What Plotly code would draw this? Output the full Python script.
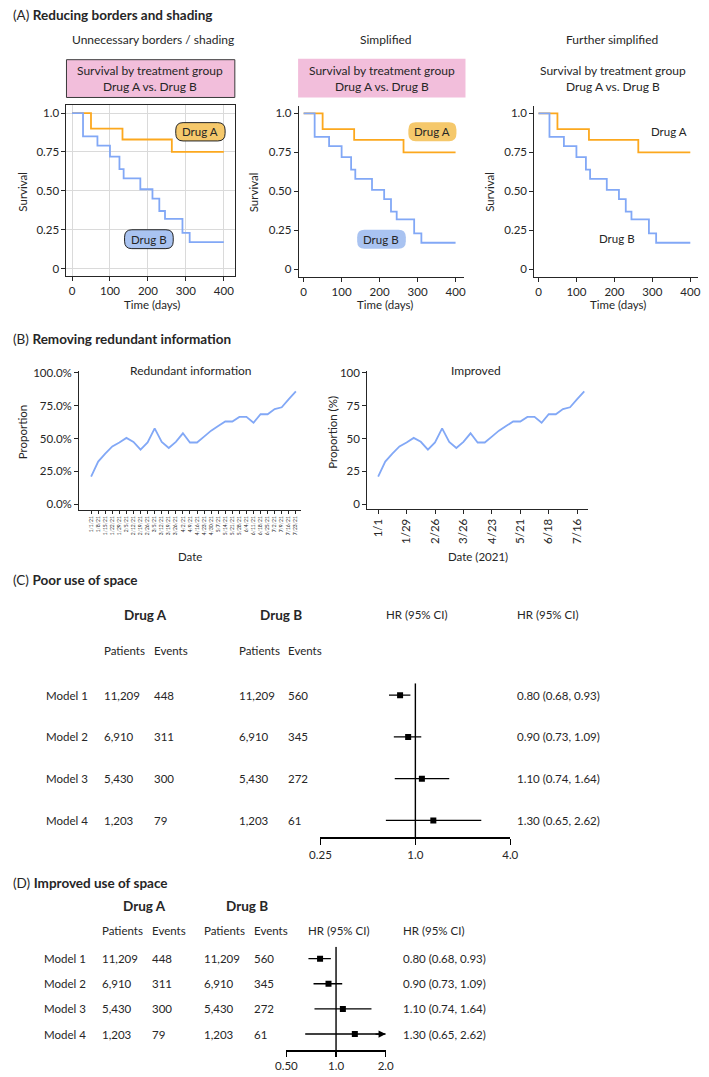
import math
import plotly.graph_objects as go

# ---------------- data ----------------
# Panel A: Kaplan-Meier style survival steps
km_a_time = [0, 50, 133, 263, 400]
km_a_surv = [1.0, 0.90, 0.83, 0.75, 0.75]
km_b_time = [0, 29, 67, 100, 125, 136, 180, 212, 230, 245, 291, 310, 400]
km_b_surv = [1.0, 0.85, 0.79, 0.72, 0.64, 0.58, 0.51, 0.45, 0.37, 0.32, 0.23, 0.17, 0.17]
surv_ticks = [0, 0.25, 0.5, 0.75, 1.0]
surv_ticktext = ["0", "0.25", "0.50", "0.75", "1.0"]
time_ticks = [0, 100, 200, 300, 400]

# Panel B: weekly proportion
week_dates = ["2021-01-01", "2021-01-08", "2021-01-15", "2021-01-22", "2021-01-29",
              "2021-02-05", "2021-02-12", "2021-02-19", "2021-02-26", "2021-03-05",
              "2021-03-12", "2021-03-19", "2021-03-26", "2021-04-02", "2021-04-09",
              "2021-04-16", "2021-04-23", "2021-04-30", "2021-05-07", "2021-05-14",
              "2021-05-21", "2021-05-28", "2021-06-04", "2021-06-11", "2021-06-18",
              "2021-06-25", "2021-07-02", "2021-07-09", "2021-07-16", "2021-07-23"]
week_labels = ["1/1/21", "1/8/21", "1/15/21", "1/22/21", "1/29/21", "2/5/21", "2/12/21",
               "2/19/21", "2/26/21", "3/5/21", "3/12/21", "3/19/21", "3/26/21", "4/2/21",
               "4/9/21", "4/16/21", "4/23/21", "4/30/21", "5/7/21", "5/14/21", "5/21/21",
               "5/28/21", "6/4/21", "6/11/21", "6/18/21", "6/25/21", "7/2/21", "7/9/21",
               "7/16/21", "7/23/21"]
proportion = [21, 32.5, 38.5, 44, 47, 50.5, 47.5, 41.5, 47, 57.8, 47.5, 42.8, 47.5, 54,
              47, 47, 51.5, 56, 59.5, 63, 63, 66.5, 66.5, 62, 68.5, 68.5, 72.5, 73.8, 80, 86]
prop_ticks = [0, 25, 50, 75, 100]
prop_ticktext_pct = ["0.0%", "25.0%", "50.0%", "75.0%", "100.0%"]
prop_ticktext = ["0", "25", "50", "75", "100"]
improved_tickvals = ["2021-01-01", "2021-01-29", "2021-02-26", "2021-03-26",
                     "2021-04-23", "2021-05-21", "2021-06-18", "2021-07-16"]
improved_ticktext = ["1/1", "1/29", "2/26", "3/26", "4/23", "5/21", "6/18", "7/16"]

# Panels C & D: forest plot
models = ["Model 1", "Model 2", "Model 3", "Model 4"]
drug_a_patients = ["11,209", "6,910", "5,430", "1,203"]
drug_a_events = ["448", "311", "300", "79"]
drug_b_patients = ["11,209", "6,910", "5,430", "1,203"]
drug_b_events = ["560", "345", "272", "61"]
hr = [0.80, 0.90, 1.10, 1.30]
ci_low = [0.68, 0.73, 0.74, 0.65]
ci_high = [0.93, 1.09, 1.64, 2.62]
hr_text = ["0.80 (0.68, 0.93)", "0.90 (0.73, 1.09)", "1.10 (0.74, 1.64)", "1.30 (0.65, 2.62)"]
c_ticks = [0.25, 1.0, 4.0]
c_ticktext = ["0.25", "1.0", "4.0"]
d_ticks = [0.5, 1.0, 2.0]
d_ticktext = ["0.50", "1.0", "2.0"]

# ---------------- style ----------------
W, H = 709, 1077
FONT = "Lato, 'Open Sans', 'DejaVu Sans', sans-serif"
INK = "#262626"
ORANGE = "#FCA81E"
BLUE = "#82A8F6"
ORANGE_FILL = "#F5C86B"
BLUE_FILL = "#A9C3F1"
PINK = "#F2BEDB"


def fx(p):
    return p / W


def fy(p):
    return 1 - p / H


fig = go.Figure()

# ---- Panel A traces
for ax in ["", "2", "3"]:
    fig.add_trace(go.Scatter(x=km_a_time, y=km_a_surv, mode="lines",
                             line=dict(color=ORANGE, width=1.8, shape="hv"),
                             xaxis="x" + ax, yaxis="y" + ax, hoverinfo="skip"))
    fig.add_trace(go.Scatter(x=km_b_time, y=km_b_surv, mode="lines",
                             line=dict(color=BLUE, width=1.8, shape="hv"),
                             xaxis="x" + ax, yaxis="y" + ax, hoverinfo="skip"))

# ---- Panel B traces
fig.add_trace(go.Scatter(x=week_labels, y=proportion, mode="lines",
                         line=dict(color=BLUE, width=1.8), xaxis="x4", yaxis="y4"))
fig.add_trace(go.Scatter(x=week_dates, y=proportion, mode="lines",
                         line=dict(color=BLUE, width=1.8), xaxis="x5", yaxis="y5"))

# ---- Panels C & D forest
rows = [i + 1 for i in range(len(models))]
C_YR = [4.405, 0.714]
D_YR = [4.64, 0.526]
D_XMAX = d_ticks[-1]

fig.add_trace(go.Scatter(x=[1, 1], y=C_YR, mode="lines", line=dict(color="black", width=1.4),
                         xaxis="x6", yaxis="y6"))
fig.add_trace(go.Scatter(
    x=hr, y=rows, mode="markers", marker=dict(symbol="square", size=6, color="black"),
    error_x=dict(type="data", symmetric=False,
                 array=[h - v for h, v in zip(ci_high, hr)],
                 arrayminus=[v - l for v, l in zip(hr, ci_low)],
                 thickness=1.4, width=0, color="black"),
    xaxis="x6", yaxis="y6"))

fig.add_trace(go.Scatter(x=[1, 1], y=D_YR, mode="lines", line=dict(color="black", width=1.4),
                         xaxis="x7", yaxis="y7"))
fig.add_trace(go.Scatter(
    x=hr, y=rows, mode="markers", marker=dict(symbol="square", size=6, color="black"),
    error_x=dict(type="data", symmetric=False,
                 array=[min(h, D_XMAX) - v for h, v in zip(ci_high, hr)],
                 arrayminus=[v - l for v, l in zip(hr, ci_low)],
                 thickness=1.4, width=0, color="black"),
    xaxis="x7", yaxis="y7"))

# ---------------- axes ----------------
tickfont = dict(family=FONT, size=11.5, color=INK)
base_axis = dict(showline=True, linecolor=INK, linewidth=1, ticks="outside", ticklen=4,
                 tickcolor=INK, tickwidth=1, zeroline=False, showgrid=False, tickfont=tickfont,
                 fixedrange=True)

layout_axes = {}
# A-left (boxed with grid)
layout_axes["xaxis"] = dict(base_axis, domain=[fx(57), fx(230)], anchor="y", range=[-14.6, 429],
                            tickmode="array", tickvals=time_ticks, mirror=True,
                            showgrid=True, gridcolor="#DADADA")
layout_axes["yaxis"] = dict(base_axis, domain=[fy(273), fy(101)], anchor="x", range=[-0.051, 1.049],
                            tickmode="array", tickvals=surv_ticks, ticktext=surv_ticktext,
                            mirror=True, showgrid=True, gridcolor="#DADADA")
# A-middle
layout_axes["xaxis2"] = dict(base_axis, domain=[fx(295.7), fx(465)], anchor="y2", range=[-12.8, 421],
                             tickmode="array", tickvals=time_ticks)
layout_axes["yaxis2"] = dict(base_axis, domain=[fy(274), fy(101.7)], anchor="x2", range=[-0.053, 1.047],
                             tickmode="array", tickvals=surv_ticks, ticktext=surv_ticktext)
# A-right
layout_axes["xaxis3"] = dict(base_axis, domain=[fx(537.7), fx(706)], anchor="y3", range=[-11, 420.5],
                             tickmode="array", tickvals=time_ticks)
layout_axes["yaxis3"] = dict(base_axis, domain=[fy(274), fy(101.7)], anchor="x3", range=[-0.053, 1.047],
                             tickmode="array", tickvals=surv_ticks, ticktext=surv_ticktext)
# B-left
layout_axes["xaxis4"] = dict(base_axis, domain=[fx(70), fx(298)], anchor="y4", type="category",
                             categoryorder="array", categoryarray=week_labels,
                             range=[-1.7, 29.73], tickmode="array", tickvals=week_labels,
                             ticktext=week_labels, tickangle=-90, ticklen=3,
                             tickfont=dict(family=FONT, size=5, color=INK))
layout_axes["yaxis4"] = dict(base_axis, domain=[fy(508), fy(368)], anchor="x4", range=[-4.55, 101.5],
                             tickmode="array", tickvals=prop_ticks, ticktext=prop_ticktext_pct)
# B-right
layout_axes["xaxis5"] = dict(base_axis, domain=[fx(366), fx(593)], anchor="y5", type="date",
                             range=["2020-12-21 05:00", "2021-07-26 19:00"], tickmode="array",
                             tickvals=improved_tickvals, ticktext=improved_ticktext, tickangle=-90)
layout_axes["yaxis5"] = dict(base_axis, domain=[fy(507), fy(368)], anchor="x5", range=[-3.8, 101.5],
                             tickmode="array", tickvals=prop_ticks, ticktext=prop_ticktext)
# C forest
forest_x = dict(showline=True, linecolor="black", linewidth=1.4, ticks="outside", ticklen=6,
                tickwidth=1.4, tickcolor="black", zeroline=False, showgrid=False,
                tickfont=tickfont, type="log", fixedrange=True)
layout_axes["xaxis6"] = dict(forest_x, domain=[fx(318), fx(513)], anchor="y6",
                             range=[math.log10(c_ticks[0]), math.log10(c_ticks[-1])],
                             tickmode="array", tickvals=c_ticks, ticktext=c_ticktext)
layout_axes["yaxis6"] = dict(domain=[fy(837), fy(682)], anchor="x6", range=C_YR, visible=False,
                             fixedrange=True)
# D forest
layout_axes["xaxis7"] = dict(forest_x, domain=[fx(283), fx(385)], anchor="y7", ticklen=5,
                             range=[math.log10(d_ticks[0]), math.log10(d_ticks[-1])],
                             tickmode="array", tickvals=d_ticks, ticktext=d_ticktext)
layout_axes["yaxis7"] = dict(domain=[fy(1051), fy(947)], anchor="x7", range=D_YR, visible=False,
                             fixedrange=True)

# ---------------- annotations ----------------
ann = []


def text(t, x, y, size=11.5, xanchor="center", yanchor="middle", angle=0, color=INK,
         yref="paper"):
    ann.append(dict(text=t, x=fx(x), y=(fy(y) if yref == "paper" else y), xref="paper",
                    yref=yref, xanchor=xanchor, yanchor=yanchor, showarrow=False,
                    textangle=angle, font=dict(family=FONT, size=size, color=color)))


# section titles
text("(A) <b>Reducing borders and shading</b>", 0, 10, size=13.5, xanchor="left")
text("(B) <b>Removing redundant information</b>", 0, 336, size=13.5, xanchor="left")
text("(C) <b>Poor use of space</b>", 0, 578, size=13.5, xanchor="left")
text("(D) <b>Improved use of space</b>", 0, 883, size=13.5, xanchor="left")

# Panel A subtitles and chart titles
text("Unnecessary borders / shading", 146, 35, size=12)
text("Simplified", 385, 35, size=12)
text("Further simplified", 618, 35, size=12)
box_title = "Survival by treatment group<br>Drug A vs. Drug B"
text(box_title, 143, 74, size=12)
text(box_title, 381, 74, size=12)
text(box_title, 619, 74, size=12)

# Panel A axis titles
for x in (12, 250, 492):
    text("Survival", x, 188, angle=-90)
for x in (145, 384, 624):
    text("Time (days)", x, 301)

# Panel A labels
pills = [
    ("Drug A", 169.3, 118.3, 220, 136.7, ORANGE_FILL, True),
    ("Drug B", 116.7, 226, 166.7, 245, BLUE_FILL, True),
    ("Drug A", 408.3, 118, 457.7, 137, ORANGE_FILL, False),
    ("Drug B", 355.7, 226, 405.7, 245, BLUE_FILL, False),
]
shapes = []
shapes.append(dict(type="rect", xref="paper", yref="paper", x0=fx(57), x1=fx(230),
                   y0=fy(93), y1=fy(55), fillcolor=PINK, line=dict(color="#3a3a3a", width=1),
                   layer="below"))
shapes.append(dict(type="rect", xref="paper", yref="paper", x0=fx(295), x1=fx(467),
                   y0=fy(93), y1=fy(54), fillcolor=PINK, line=dict(width=0), layer="below"))


def rrect(x0, y0, x1, y1, r):
    P = lambda x, y: f"{fx(x):.5f},{fy(y):.5f}"
    return (f"M {P(x0 + r, y0)} L {P(x1 - r, y0)} Q {P(x1, y0)} {P(x1, y0 + r)} "
            f"L {P(x1, y1 - r)} Q {P(x1, y1)} {P(x1 - r, y1)} L {P(x0 + r, y1)} "
            f"Q {P(x0, y1)} {P(x0, y1 - r)} L {P(x0, y0 + r)} Q {P(x0, y0)} {P(x0 + r, y0)} Z")


for label, x0, y0, x1, y1, fill, border in pills:
    shapes.append(dict(type="path", xref="paper", yref="paper", path=rrect(x0, y0, x1, y1, 7.5),
                       fillcolor=fill,
                       line=dict(color="#222222", width=1) if border else dict(width=0)))
    text(label, (x0 + x1) / 2, (y0 + y1) / 2, size=11.5)
text("Drug A", 676, 127, size=11.5)
text("Drug B", 623, 235, size=11.5)

# Panel B titles
text("Redundant information", 185, 368, size=12)
text("Improved", 478, 368, size=12)
text("Proportion", 12, 430, angle=-90)
text("Proportion (%)", 330, 430, angle=-90)
text("Date", 184, 555)
text("Date (2021)", 480, 555)

# Panel C table
text("<b>Drug A</b>", 138, 613, size=13.5)
text("<b>Drug B</b>", 277, 613, size=13.5)
text("HR (95% CI)", 417, 613)
text("HR (95% CI)", 518, 613, xanchor="left")
for x, t in ((93, "Patients"), (145, "Events"), (232, "Patients"), (283, "Events")):
    text(t, x, 649, xanchor="left")
for i, r in enumerate(rows):
    text(models[i], 34, r, xanchor="left", yref="y6")
    text(drug_a_patients[i], 93, r, xanchor="left", yref="y6")
    text(drug_a_events[i], 145, r, xanchor="left", yref="y6")
    text(drug_b_patients[i], 232, r, xanchor="left", yref="y6")
    text(drug_b_events[i], 283, r, xanchor="left", yref="y6")
    text(hr_text[i], 518, r, xanchor="left", yref="y6")

# Panel D table
text("<b>Drug A</b>", 137, 906, size=13.5)
text("<b>Drug B</b>", 242, 906, size=13.5)
for x, t in ((91, "Patients"), (143, "Events"), (196, "Patients"), (248, "Events"),
             (303, "HR (95% CI)"), (401, "HR (95% CI)")):
    text(t, x, 931, xanchor="left")
for i, r in enumerate(rows):
    text(models[i], 32, r, xanchor="left", yref="y7")
    text(drug_a_patients[i], 91, r, xanchor="left", yref="y7")
    text(drug_a_events[i], 143, r, xanchor="left", yref="y7")
    text(drug_b_patients[i], 196, r, xanchor="left", yref="y7")
    text(drug_b_events[i], 248, r, xanchor="left", yref="y7")
    text(hr_text[i], 401, r, xanchor="left", yref="y7")

# arrows for CIs truncated at the D axis maximum
for i, r in enumerate(rows):
    if ci_high[i] > D_XMAX:
        ann.append(dict(x=math.log10(D_XMAX), y=r, xref="x7", yref="y7",
                        ax=math.log10(D_XMAX * 0.85), ay=r, axref="x7", ayref="y7",
                        text="", showarrow=True, arrowhead=2, arrowsize=1.1,
                        arrowwidth=1.3, arrowcolor="black", standoff=0))

fig.update_layout(
    width=W, height=H, margin=dict(l=0, r=0, t=0, b=0),
    paper_bgcolor="white", plot_bgcolor="white", showlegend=False,
    font=dict(family=FONT, size=11.5, color=INK),
    annotations=ann, shapes=shapes, hovermode=False,
    **layout_axes,
)

fig.write_html(
    "out.html",
    config={"displayModeBar": False, "staticPlot": True},
    post_script="document.body.style.margin='0';document.body.style.overflow='hidden';",
)
